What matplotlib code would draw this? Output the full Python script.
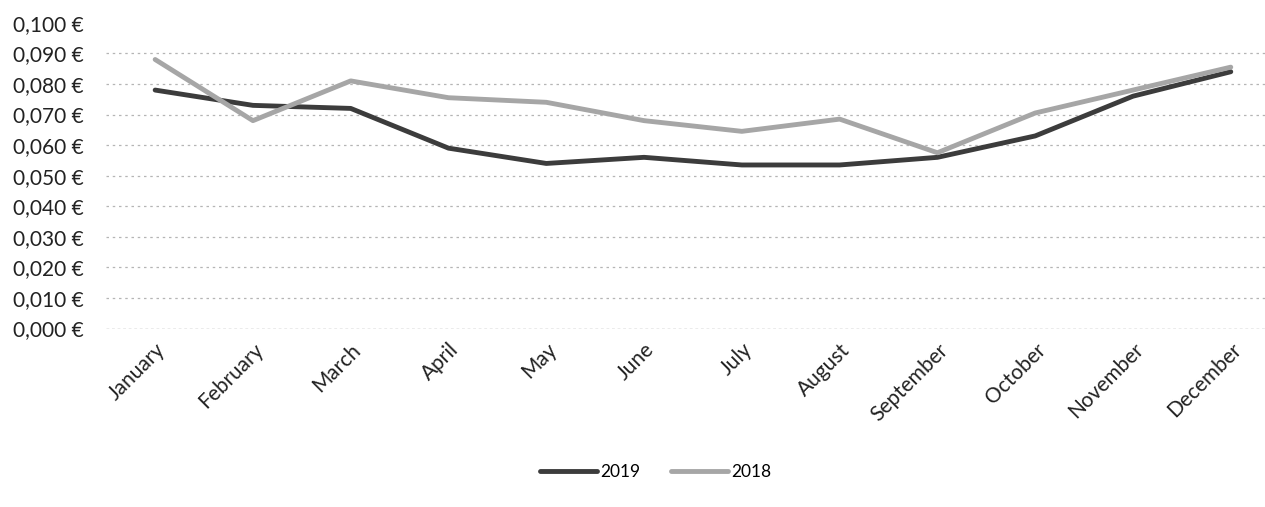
import matplotlib
matplotlib.use("Agg")
import matplotlib.pyplot as plt
from matplotlib.ticker import FuncFormatter

months = ["January", "February", "March", "April", "May", "June",
          "July", "August", "September", "October", "November", "December"]
price_2019 = [0.078, 0.073, 0.072, 0.059, 0.054, 0.056,
              0.0535, 0.0535, 0.056, 0.063, 0.076, 0.084]
price_2018 = [0.088, 0.068, 0.081, 0.0755, 0.074, 0.068,
              0.0645, 0.0685, 0.0575, 0.0705, 0.078, 0.0855]
y_ticks = [i / 100 for i in range(11)]

plt.rcParams["font.family"] = ["Lato", "DejaVu Sans"]

fig = plt.figure(figsize=(12.65, 5.07), dpi=100)
ax = fig.add_axes([0.084, 0.352, 0.916, 0.603])

x = list(range(len(months)))
ax.plot(x, price_2019, color="#3c3c3c", lw=3.5, label="2019", solid_capstyle="round", zorder=3)
ax.plot(x, price_2018, color="#a6a6a6", lw=3.5, label="2018", solid_capstyle="round", zorder=3)

ax.set_xlim(-0.5, 11.35)
ax.set_ylim(0, 0.1)
ax.set_yticks(y_ticks)
ax.yaxis.set_major_formatter(FuncFormatter(lambda v, p: f"{v:.3f}".replace(".", ",") + " €"))
ax.set_xticks(x)
ax.set_xticklabels(months, rotation=45, ha="right", rotation_mode="anchor")
ax.tick_params(axis="both", length=0, labelsize=15, colors="#222222")
ax.tick_params(axis="x", pad=8)
ax.tick_params(axis="y", pad=16)

# dotted gridlines (none visible at the top value)
for v in y_ticks[1:-1]:
    ax.axhline(v, color="#b5b5b5", lw=0.9, ls=(0, (2, 3)), zorder=1)
ax.axhline(0, color="#999999", lw=1.0, ls=(0, (2, 2)), zorder=1)
for s in ax.spines.values():
    s.set_visible(False)

ax.legend(loc="center", bbox_to_anchor=(0.474, -0.47), ncol=2, frameon=False,
          fontsize=12.5, handlelength=3.3, handletextpad=0.15, columnspacing=1.8)

fig.savefig("out.png", dpi=100)
plt.close(fig)
